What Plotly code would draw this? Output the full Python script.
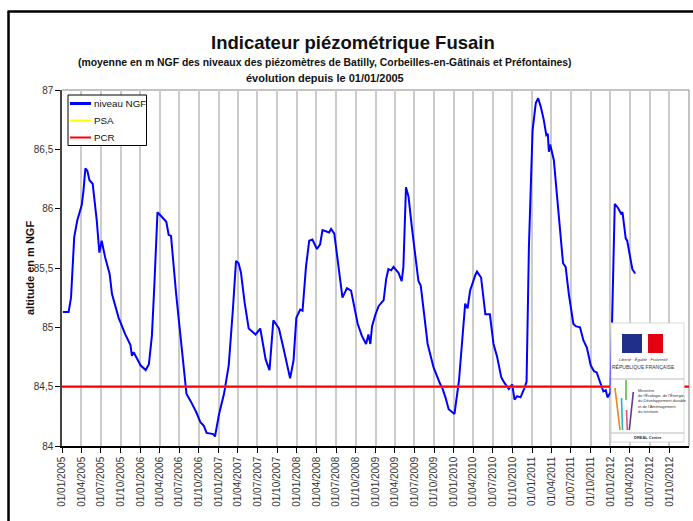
import plotly.graph_objects as go

# ---- data -------------------------------------------------------------
dates = [
    "2005-01-05", "2005-02-01", "2005-02-12", "2005-02-27", "2005-03-13", "2005-04-03",
    "2005-04-11", "2005-04-20", "2005-04-29", "2005-05-09", "2005-05-24", "2005-06-12",
    "2005-06-24", "2005-07-05", "2005-07-21", "2005-08-11", "2005-08-22", "2005-09-22",
    "2005-10-23", "2005-11-16", "2005-11-23", "2005-12-01", "2006-01-02", "2006-01-26",
    "2006-02-10", "2006-02-24", "2006-03-07", "2006-03-22", "2006-04-12", "2006-05-02",
    "2006-05-13", "2006-05-24", "2006-06-17", "2006-07-14", "2006-08-04", "2006-08-23",
    "2006-09-20", "2006-10-08", "2006-10-24", "2006-11-06", "2006-12-07", "2006-12-15",
    "2007-01-03", "2007-01-26", "2007-02-17", "2007-03-08", "2007-03-23", "2007-04-04",
    "2007-04-15", "2007-05-02", "2007-05-21", "2007-06-22", "2007-07-14", "2007-08-08",
    "2007-08-26", "2007-09-13", "2007-10-09", "2007-11-02", "2007-11-30", "2007-12-16",
    "2007-12-29", "2008-01-16", "2008-01-27", "2008-02-12", "2008-02-27", "2008-03-13",
    "2008-04-03", "2008-04-18", "2008-04-29", "2008-05-30", "2008-06-08", "2008-06-23",
    "2008-07-08", "2008-07-31", "2008-08-21", "2008-09-09", "2008-10-10", "2008-10-29",
    "2008-11-18", "2008-11-29", "2008-12-08", "2008-12-16", "2009-01-01", "2009-01-16",
    "2009-02-08", "2009-02-20", "2009-03-02", "2009-03-15", "2009-03-26", "2009-04-18",
    "2009-05-03", "2009-05-11", "2009-05-23", "2009-06-04", "2009-06-19", "2009-07-05",
    "2009-07-20", "2009-07-31", "2009-08-13", "2009-09-01", "2009-09-29", "2009-10-15",
    "2009-10-30", "2009-11-08", "2009-11-23", "2009-12-08", "2010-01-04", "2010-01-25",
    "2010-02-09", "2010-02-23", "2010-03-06", "2010-03-18", "2010-04-11", "2010-04-19",
    "2010-05-08", "2010-05-28", "2010-06-18", "2010-07-05", "2010-07-22", "2010-08-10",
    "2010-08-22", "2010-09-14", "2010-09-30", "2010-10-11", "2010-10-23", "2010-11-08",
    "2010-11-24", "2010-12-06", "2010-12-17", "2011-01-03", "2011-01-18", "2011-01-29",
    "2011-02-10", "2011-02-24", "2011-03-08", "2011-03-15", "2011-03-20", "2011-03-26",
    "2011-04-12", "2011-04-28", "2011-05-13", "2011-05-25", "2011-06-06", "2011-06-21",
    "2011-07-12", "2011-07-23", "2011-08-12", "2011-08-28", "2011-09-13", "2011-10-01",
    "2011-10-16", "2011-10-29", "2011-11-17", "2011-11-29", "2011-12-10", "2011-12-18",
    "2012-01-01", "2012-01-08", "2012-01-21", "2012-02-04", "2012-02-19", "2012-02-26",
    "2012-03-04", "2012-03-12", "2012-03-19", "2012-03-27", "2012-04-05", "2012-04-12",
    "2012-04-23", "2012-04-27",
]
niveau_ngf = [
    85.13, 85.13, 85.25, 85.76, 85.90, 86.03,
    86.15, 86.34, 86.32, 86.24, 86.21, 85.90,
    85.63, 85.73, 85.59, 85.45, 85.28, 85.08,
    84.94, 84.85, 84.76, 84.79, 84.68, 84.64,
    84.69, 84.93, 85.34, 85.97, 85.93, 85.89,
    85.78, 85.77, 85.28, 84.83, 84.44, 84.38,
    84.28, 84.20, 84.17, 84.11, 84.10, 84.08,
    84.27, 84.44, 84.68, 85.14, 85.56, 85.54,
    85.46, 85.21, 84.99, 84.94, 84.99, 84.73,
    84.64, 85.06, 84.99, 84.80, 84.57, 84.72,
    85.08, 85.15, 85.14, 85.51, 85.73, 85.74,
    85.66, 85.70, 85.82, 85.80, 85.83, 85.79,
    85.59, 85.25, 85.33, 85.31, 85.03, 84.93,
    84.86, 84.94, 84.86, 85.01, 85.11, 85.18,
    85.23, 85.41, 85.49, 85.48, 85.51, 85.46,
    85.39, 85.51, 86.18, 86.10, 85.85, 85.59,
    85.39, 85.35, 85.17, 84.86, 84.66, 84.58,
    84.52, 84.49, 84.41, 84.31, 84.27, 84.55,
    84.92, 85.20, 85.16, 85.31, 85.44, 85.47,
    85.42, 85.11, 85.11, 84.86, 84.75, 84.58,
    84.54, 84.48, 84.52, 84.39, 84.42, 84.41,
    84.48, 84.54, 85.68, 86.66, 86.89, 86.93,
    86.86, 86.75, 86.62, 86.63, 86.48, 86.54,
    86.41, 86.07, 85.76, 85.54, 85.51, 85.28,
    85.03, 85.01, 85.00, 84.89, 84.83, 84.68,
    84.63, 84.62, 84.52, 84.46, 84.47, 84.41,
    84.45, 85.11, 86.04, 86.01, 85.96, 85.97,
    85.87, 85.75, 85.73, 85.65, 85.54, 85.49,
    85.46, 85.46,
]
seuil_dates = ["2005-01-01", "2013-01-01"]
psa_values = [84.5, 84.5]
pcr_values = [84.5, 84.5]

series_names = ["niveau NGF", "PSA", "PCR"]
series_colors = ["#0000ff", "#ffff00", "#ff0000"]

tick_dates = [f"{y}-{m:02d}-01" for y in range(2005, 2013) for m in (1, 4, 7, 10)]
tick_labels = [f"01/{m:02d}/{y}" for y in range(2005, 2013) for m in (1, 4, 7, 10)]

# ---- figure -----------------------------------------------------------
FONT = "Liberation Sans Narrow, Arial Narrow, Liberation Sans, Arial, sans-serif"

fig = go.Figure()
fig.add_trace(go.Scatter(x=dates, y=niveau_ngf, mode="lines", name=series_names[0],
                         line=dict(color=series_colors[0], width=2)))
fig.add_trace(go.Scatter(x=seuil_dates, y=psa_values, mode="lines", name=series_names[1],
                         line=dict(color=series_colors[1], width=2)))
fig.add_trace(go.Scatter(x=seuil_dates, y=pcr_values, mode="lines", name=series_names[2],
                         line=dict(color=series_colors[2], width=2.2)))

W, H = 693, 521
L, R, T, B = 62, 4, 90, 75
pw, ph = W - L - R, H - T - B


def px(x):
    return (x - L) / pw


def py(y):
    return (H - B - y) / ph


shapes = []
annotations = []
# outer frame (top and left visible)
shapes.append(dict(type="line", xref="paper", yref="paper", x0=px(7.5), x1=px(700),
                   y0=py(11.5), y1=py(11.5), line=dict(color="black", width=2.5), layer="above"))
shapes.append(dict(type="line", xref="paper", yref="paper", x0=px(8.5), x1=px(8.5),
                   y0=py(11.5), y1=py(530), line=dict(color="black", width=2.5), layer="above"))
# plot-area border (top, right) grey
shapes.append(dict(type="line", xref="paper", yref="paper", x0=0, x1=1, y0=1, y1=1,
                   line=dict(color="#888888", width=1), layer="below"))
shapes.append(dict(type="line", xref="paper", yref="paper", x0=1, x1=1, y0=0, y1=1,
                   line=dict(color="#888888", width=1), layer="below"))

# legend box (drawn to match the compact original legend)
shapes.append(dict(type="rect", xref="paper", yref="paper", x0=px(68), x1=px(146.5),
                   y0=py(95), y1=py(145.5), fillcolor="white",
                   line=dict(color="black", width=1), layer="above"))
for i, (name, col) in enumerate(zip(series_names, series_colors)):
    yy = [103.5, 120.5, 137.5][i]
    shapes.append(dict(type="line", xref="paper", yref="paper", x0=px(70), x1=px(91),
                       y0=py(yy), y1=py(yy), line=dict(color=col, width=3 if i == 0 else 2),
                       layer="above"))
    annotations.append(dict(text=name, x=px(92), y=py(yy), xanchor="left",
                            font=dict(size=9.8, family=FONT, color="#111111")))

# logo block
lx0, lx1, ly0, ly1 = 611, 684, 323, 442
shapes.append(dict(type="rect", xref="paper", yref="paper", x0=px(lx0), x1=px(lx1),
                   y0=py(ly0), y1=py(ly1), fillcolor="white",
                   line=dict(color="#d8d8d8", width=1), layer="above"))
shapes.append(dict(type="rect", xref="paper", yref="paper", x0=px(622), x1=px(642),
                   y0=py(334), y1=py(353), fillcolor="#1f2f8a", line=dict(width=0), layer="above"))
shapes.append(dict(type="rect", xref="paper", yref="paper", x0=px(648), x1=px(663),
                   y0=py(334), y1=py(353), fillcolor="#e1000f", line=dict(width=0), layer="above"))
shapes.append(dict(type="line", xref="paper", yref="paper", x0=px(lx0), x1=px(lx1),
                   y0=py(379), y1=py(379), line=dict(color="#bbbbbb", width=1), layer="above"))
shapes.append(dict(type="line", xref="paper", yref="paper", x0=px(lx0), x1=px(lx1),
                   y0=py(433), y1=py(433), line=dict(color="#bbbbbb", width=1), layer="above"))
for (x0, y0, x1, y1, c) in [(615, 388, 620, 430, "#e8831f"), (621.5, 398, 622.5, 430, "#27b3c6"),
                            (626, 380, 626, 400, "#5dbb3c"), (626.5, 410, 627.3, 430, "#e2527f"),
                            (633.3, 392, 629.3, 430, "#5b3b8f")]:
    shapes.append(dict(type="line", xref="paper", yref="paper", x0=px(x0), x1=px(x1),
                       y0=py(y0), y1=py(y1), line=dict(color=c, width=1.6), layer="above"))

annotations += [
    dict(text="<b>Indicateur piézométrique Fusain</b>", x=px(353), y=py(43),
         font=dict(size=18.5, family=FONT, color="#111111")),
    dict(text="<b>(moyenne en m NGF des niveaux des piézomètres de Batilly, Corbeilles-en-Gâtinais et Préfontaines)</b>",
         x=px(325), y=py(62), font=dict(size=10.4, family=FONT, color="#111111")),
    dict(text="<b>évolution depuis le 01/01/2005</b>", x=px(325), y=py(78),
         font=dict(size=11, family=FONT, color="#111111")),
    dict(text="<b>altitude en m NGF</b>", x=px(30), y=0.5, textangle=-90,
         font=dict(size=11, family=FONT, color="#111111")),
    dict(text="<i>Liberté · Égalité · Fraternité</i>", x=px(643), y=py(359),
         font=dict(size=4, family=FONT, color="#333333")),
    dict(text="RÉPUBLIQUE FRANÇAISE", x=px(643), y=py(366.5),
         font=dict(size=5, family=FONT, color="#333333")),
    dict(text="Ministère<br>de l'Écologie, de l'Énergie,<br>du Développement durable<br>et de l'Aménagement<br>du territoire",
         x=px(636), y=py(386), xanchor="left", yanchor="top", align="left",
         font=dict(size=4, family=FONT, color="#333333")),
    dict(text="<b>DREAL Centre</b>", x=px(648), y=py(437.5),
         font=dict(size=4, family=FONT, color="#333333")),
]
for a in annotations:
    a.setdefault("xref", "paper")
    a.setdefault("yref", "paper")
    a.setdefault("showarrow", False)
    a.setdefault("xanchor", "center")
    a.setdefault("yanchor", "middle")

fig.update_layout(
    width=W, height=H,
    margin=dict(l=L, r=R, t=T, b=B, pad=0),
    paper_bgcolor="white", plot_bgcolor="white",
    separators=", ",
    font=dict(family=FONT, size=10, color="#222222"),
    showlegend=False,
    shapes=shapes,
    annotations=annotations,
)
fig.update_xaxes(
    type="date", range=["2005-01-01", "2013-01-01"],
    tickmode="array", tickvals=tick_dates, ticktext=tick_labels,
    tickangle=-90, tickfont=dict(size=10, family=FONT, color="#333333"),
    showgrid=True, gridcolor="#cccccc", gridwidth=1.5,
    showline=True, linecolor="black", linewidth=1.5,
    ticks="outside", ticklen=5, tickcolor="black", zeroline=False,
)
fig.update_yaxes(
    range=[84, 87], dtick=0.5, tick0=84,
    tickfont=dict(size=10, family=FONT, color="#333333"),
    showgrid=False, showline=True, linecolor="#444444", linewidth=1.5,
    ticks="outside", ticklen=5, tickcolor="black", zeroline=False,
)

fig.write_html("out.html", config={"displayModeBar": False},
               post_script="document.body.style.margin='0';document.body.style.padding='0';")
